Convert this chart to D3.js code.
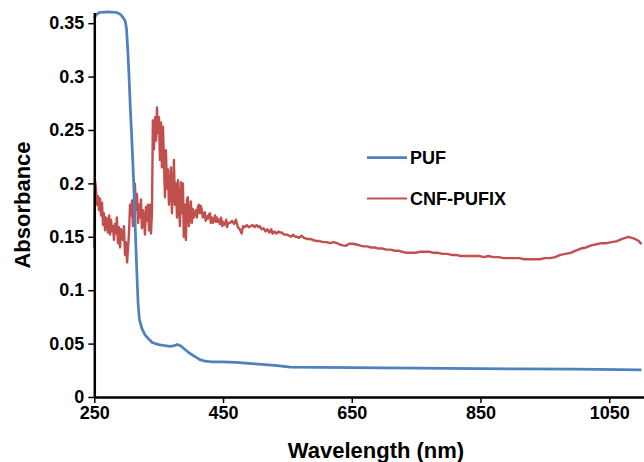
<!DOCTYPE html>
<html><head><meta charset="utf-8">
<script src="https://cdn.jsdelivr.net/npm/d3@7"></script>
<style>
html,body{margin:0;padding:0;background:#fff;}
svg text{font-family:"Liberation Sans",Arial,sans-serif;font-weight:bold;fill:#000;}
</style></head>
<body><svg id="chart" width="644" height="462"></svg>
<script>
// ---- data ----
const xTicks = [250, 450, 650, 850, 1050];
const yTicks = [0, 0.05, 0.1, 0.15, 0.2, 0.25, 0.3, 0.35];
const yTickLabels = ["0", "0.05", "0.1", "0.15", "0.2", "0.25", "0.3", "0.35"];
const seriesNames = ["PUF", "CNF-PUFIX"];

const pufWavelength = [250,253,258,270,285,291,295,298,300,302,304,306,308,310,312,314,316,318,320,324,329,335,340,350,360,368,374,379,384,390,398,406,414,422,432,450,470,500,530,555,600,700,800,900,1000,1100];
const pufAbs = [0.355,0.358,0.360,0.3605,0.360,0.358,0.355,0.352,0.345,0.325,0.30,0.27,0.245,0.218,0.188,0.152,0.118,0.088,0.073,0.064,0.058,0.054,0.051,0.049,0.048,0.0475,0.048,0.0492,0.048,0.045,0.041,0.038,0.035,0.0335,0.033,0.033,0.0325,0.031,0.0295,0.028,0.0278,0.0273,0.0268,0.0264,0.026,0.0255];

const cnfWavelength = [250,251,252.6,254,255.7,257.3,258.9,260.5,262,263.6,265,266.7,268,270,271,273,274.4,276,277.5,279,280.6,282,283.7,285,286.8,288.4,290,291.5,293,294.6,296,297.7,299,301,302.4,304,305.5,307,308.6,310,311.7,313,314.8,316.3,318,319.5,321,322.5,324,325.6,327,328.7,330.2,331.8,333.3,335,336.6,338,339.6,341,342.8,344.3,346,347.4,349,350.5,352,353.6,355,356.7,358,359.8,361.3,363,364.4,366,367.6,369,370.6,372,373.7,375.3,377,378.4,380,381.5,383,384.6,386,387.7,389,390.8,392.3,394,395.4,397,398.5,400,401.6,403,404.7,406,407.8,409.4,411,412.5,414,415.5,417,418.6,420,421.7,423,425,426.4,428,429.8,431,433,434.5,436,437.6,439,440.7,442,444,445,447,448.6,450,451.7,453,455,456.3,458,461,464,467,470,473,476,479,481,484,487,490,493,496,499,502,505,507,510,513,516,519,522,525,527,530,533,536,538,541,545,549,553,556,559,562,565,568,572,576,580,585,590,595,600,606,611,616,622,627,631,636,641,646,651,656,662,668,674,680,686,692,698,704,710,716,722,728,735,742,749,756,763,770,777,784,791,798,805,812,819,826,833,840,848,855,862,870,878,886,894,902,910,918,926,934,942,950,958,966,974,982,990,998,1006,1014,1022,1030,1038,1046,1054,1062,1070,1080,1090,1096,1100];
const cnfAbs = [0.140,0.203,0.195,0.180,0.188,0.175,0.186,0.170,0.182,0.161,0.172,0.156,0.168,0.165,0.154,0.170,0.152,0.166,0.155,0.160,0.147,0.162,0.153,0.168,0.144,0.159,0.140,0.157,0.150,0.147,0.160,0.133,0.145,0.126,0.140,0.1545,0.180,0.170,0.184,0.160,0.187,0.200,0.175,0.190,0.163,0.180,0.168,0.185,0.158,0.175,0.168,0.152,0.178,0.165,0.180,0.156,0.180,0.153,0.172,0.259,0.232,0.262,0.240,0.271,0.247,0.262,0.222,0.257,0.215,0.253,0.225,0.187,0.231,0.195,0.213,0.180,0.194,0.215,0.172,0.191,0.222,0.180,0.200,0.168,0.203,0.180,0.160,0.201,0.172,0.200,0.150,0.180,0.147,0.185,0.187,0.160,0.172,0.183,0.163,0.176,0.168,0.172,0.175,0.168,0.178,0.180,0.172,0.179,0.175,0.168,0.170,0.173,0.165,0.169,0.167,0.171,0.172,0.163,0.168,0.163,0.166,0.170,0.164,0.168,0.164,0.166,0.162,0.168,0.160,0.164,0.161,0.162,0.166,0.159,0.163,0.163,0.165,0.162,0.166,0.159,0.157,0.153,0.160,0.159,0.161,0.159,0.160,0.161,0.159,0.161,0.159,0.160,0.157,0.158,0.155,0.157,0.154,0.157,0.153,0.155,0.153,0.155,0.154,0.154,0.152,0.152,0.151,0.150,0.152,0.150,0.150,0.149,0.151,0.149,0.148,0.148,0.147,0.146,0.146,0.145,0.145,0.144,0.145,0.144,0.143,0.142,0.1415,0.1435,0.1435,0.143,0.142,0.141,0.141,0.140,0.140,0.139,0.139,0.138,0.138,0.137,0.137,0.136,0.135,0.135,0.135,0.136,0.136,0.136,0.135,0.135,0.134,0.134,0.133,0.133,0.132,0.132,0.132,0.132,0.132,0.131,0.132,0.131,0.131,0.130,0.130,0.130,0.130,0.129,0.129,0.129,0.129,0.130,0.130,0.131,0.133,0.134,0.135,0.137,0.139,0.140,0.142,0.143,0.144,0.144,0.145,0.146,0.148,0.150,0.148,0.146,0.143];

const colors = ["#4F81BD", "#C0504D"];

// ---- chart ----
const svg = d3.select("#chart");
const x = d3.scaleLinear().domain([250, 1104]).range([94.3, 644]);
const y = d3.scaleLinear().domain([0, 0.36]).range([397, 12.5]);

const line = d3.line().x(d => x(d[0])).y(d => y(d[1]));

svg.append("path")
  .datum(cnfWavelength.map((w, i) => [w, cnfAbs[i]]))
  .attr("fill", "none").attr("stroke", colors[1]).attr("stroke-width", 2.4)
  .attr("stroke-linejoin", "round").attr("d", line);

svg.append("path")
  .datum(pufWavelength.map((w, i) => [w, pufAbs[i]]))
  .attr("fill", "none").attr("stroke", colors[0]).attr("stroke-width", 2.75)
  .attr("stroke-linejoin", "round").attr("d", line);

// axes
const yAxis = d3.axisLeft(y).tickValues(yTicks).tickFormat((d, i) => yTickLabels[i]).tickSize(6).tickSizeOuter(0).tickPadding(4);
const gy = svg.append("g").attr("transform", "translate(94.3,0)").call(yAxis);
gy.select(".domain").attr("stroke-width", 2.5);
gy.selectAll(".tick line").attr("stroke-width", 1.5);
gy.selectAll("text").style("font-size", "18px");

const xAxis = d3.axisBottom(x).tickValues(xTicks).tickFormat(d3.format("d")).tickSize(6).tickSizeOuter(0).tickPadding(3);
const gx = svg.append("g").attr("transform", "translate(0,397)").call(xAxis);
gx.select(".domain").attr("stroke-width", 2.5);
gx.selectAll(".tick line").attr("stroke-width", 1.5);
gx.selectAll("text").style("font-size", "18px");

// titles
svg.append("text").attr("transform", "translate(30,205) rotate(-90)")
  .attr("text-anchor", "middle").style("font-size", "22px").text("Absorbance");
svg.append("text").attr("x", 376).attr("y", 458)
  .attr("text-anchor", "middle").style("font-size", "22px").text("Wavelength (nm)");

// legend
const legendY = [157.5, 198.5];
seriesNames.forEach((name, i) => {
  svg.append("line").attr("x1", 367).attr("x2", 407).attr("y1", legendY[i]).attr("y2", legendY[i])
    .attr("stroke", colors[i]).attr("stroke-width", i === 0 ? 2.75 : 2);
  svg.append("text").attr("x", 410).attr("y", legendY[i] + 6).style("font-size", "18px").text(name);
});
</script></body></html>
